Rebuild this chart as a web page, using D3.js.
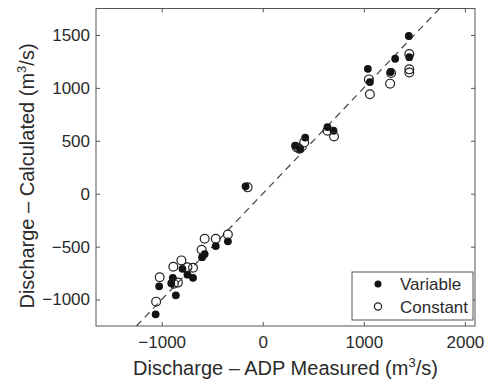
<!DOCTYPE html>
<html>
<head>
<meta charset="utf-8">
<script src="https://cdn.jsdelivr.net/npm/d3@7"></script>
<style>
  body { margin: 0; background: #fff; }
  text { font-family: "Liberation Sans", Arial, sans-serif; fill: #2a2a2a; }
</style>
</head>
<body>
<svg id="chart"></svg>
<script>
// measured vs calculated discharge (m3/s)
const varX = [-1060, -1025, -890, -905, -860, -795, -745, -690, -600, -575, -465, -345,
  -170, 320, 370, 420, 640, 700, 1040, 1060, 1265, 1310, 1450, 1445];
const varY = [-1140, -875, -795, -845, -960, -710, -765, -795, -600, -570, -495, -450,
  70, 455, 420, 530, 630, 595, 1180, 1055, 1150, 1275, 1290, 1490];

const conX = [-1055, -1020, -885, -880, -840, -805, -745, -690, -605, -575, -465, -345,
  -150, 335, 360, 410, 640, 705, 1050, 1060, 1260, 1270, 1450, 1450, 1450];
const conY = [-1020, -790, -690, -850, -840, -630, -695, -700, -530, -425, -425, -385,
  60, 440, 425, 485, 595, 540, 1080, 940, 1040, 1140, 1320, 1175, 1145];

const xTicks = [-1000, 0, 1000, 2000];
const yTicks = [-1000, -500, 0, 500, 1000, 1500];
const xDomain = [-1650, 2100];
const yDomain = [-1250, 1750];
const legendLabels = ["Variable", "Constant"];

const width = 486, height = 381;
const margin = { top: 8.5, right: 11, bottom: 55, left: 96 };
const innerW = width - margin.left - margin.right;
const innerH = height - margin.top - margin.bottom;
const axisColor = "#555";

const svg = d3.select("#chart").attr("width", width).attr("height", height);

const chart = svg.append("g")
  .attr("transform", `translate(${margin.left},${margin.top})`);

const x = d3.scaleLinear().domain(xDomain).range([0, innerW]);
const y = d3.scaleLinear().domain(yDomain).range([innerH, 0]);

chart.append("clipPath").attr("id", "clip")
  .append("rect").attr("width", innerW).attr("height", innerH);

// box
chart.append("rect")
  .attr("width", innerW).attr("height", innerH)
  .attr("fill", "none").attr("stroke", axisColor).attr("stroke-width", 1);

// axes, ticks inward like matlab
const tickLen = 4;
const styleAxis = (g) => {
  g.select(".domain").remove();
  g.selectAll(".tick line").attr("stroke", axisColor);
  g.selectAll(".tick text").style("font-size", "17px").attr("fill", "#2a2a2a");
};

chart.append("g")
  .attr("transform", `translate(0,${innerH})`)
  .call(d3.axisBottom(x).tickValues(xTicks).tickSizeInner(-tickLen).tickSizeOuter(0)
    .tickPadding(10).tickFormat(d3.format("d")))
  .call(styleAxis)
  .selectAll(".tick text").text((d) => d < 0 ? "\u2212" + Math.abs(d) : d);

chart.append("g")
  .call(d3.axisTop(x).tickValues(xTicks).tickSizeInner(-tickLen).tickSizeOuter(0).tickFormat(""))
  .call(styleAxis);

chart.append("g")
  .call(d3.axisLeft(y).tickValues(yTicks).tickSizeInner(-tickLen).tickSizeOuter(0)
    .tickPadding(6).tickFormat(d3.format("d")))
  .call(styleAxis)
  .selectAll(".tick text").text((d) => d < 0 ? "\u2212" + Math.abs(d) : d);

chart.append("g")
  .attr("transform", `translate(${innerW},0)`)
  .call(d3.axisRight(y).tickValues(yTicks).tickSizeInner(-tickLen).tickSizeOuter(0).tickFormat(""))
  .call(styleAxis);

// 1:1 line
chart.append("line")
  .attr("clip-path", "url(#clip)")
  .attr("x1", x(yDomain[0])).attr("y1", y(yDomain[0]))
  .attr("x2", x(yDomain[1])).attr("y2", y(yDomain[1]))
  .attr("stroke", "#444").attr("stroke-width", 1.2)
  .attr("stroke-dasharray", "7,5");

// points
const varData = varX.map((d, i) => ({ x: d, y: varY[i] }));
const conData = conX.map((d, i) => ({ x: d, y: conY[i] }));

chart.selectAll(".var-pt")
  .data(varData)
  .join("circle")
  .attr("class", "var-pt")
  .attr("cx", (d) => x(d.x))
  .attr("cy", (d) => y(d.y))
  .attr("r", 3.9)
  .attr("fill", "#111");

chart.selectAll(".con-pt")
  .data(conData)
  .join("circle")
  .attr("class", "con-pt")
  .attr("cx", (d) => x(d.x))
  .attr("cy", (d) => y(d.y))
  .attr("r", 4.4)
  .attr("fill", "none")
  .attr("stroke", "#222")
  .attr("stroke-width", 1.2);

// axis labels
const xLabel = svg.append("text")
  .attr("x", margin.left + innerW / 2)
  .attr("y", 375)
  .attr("text-anchor", "middle")
  .style("font-size", "20px");
xLabel.append("tspan").text("Discharge \u2013 ADP Measured (m");
xLabel.append("tspan").attr("dy", -8).style("font-size", "13px").text("3");
xLabel.append("tspan").attr("dy", 8).text("/s)");

const yLabel = svg.append("text")
  .attr("transform", "translate(34,176) rotate(-90)")
  .attr("text-anchor", "middle")
  .style("font-size", "20px");
yLabel.append("tspan").text("Discharge \u2013 Calculated (m");
yLabel.append("tspan").attr("dy", -8).style("font-size", "13px").text("3");
yLabel.append("tspan").attr("dy", 8).text("/s)");

// legend
const legend = svg.append("g").attr("transform", "translate(352,272)");
legend.append("rect")
  .attr("width", 121).attr("height", 48)
  .attr("fill", "#fff").attr("stroke", axisColor);

const legendItems = legend.selectAll(".legend-item")
  .data(legendLabels)
  .join("g")
  .attr("class", "legend-item")
  .attr("transform", (d, i) => `translate(0,${12 + i * 22.5})`);

legendItems.append("circle")
  .attr("cx", 26).attr("cy", 0)
  .attr("r", (d, i) => i === 0 ? 3.5 : 3.6)
  .attr("fill", (d, i) => i === 0 ? "#111" : "none")
  .attr("stroke", (d, i) => i === 0 ? "none" : "#222")
  .attr("stroke-width", 1.2);

legendItems.append("text")
  .attr("x", 48).attr("y", 6)
  .style("font-size", "17px")
  .text((d) => d);
</script>
</body>
</html>
